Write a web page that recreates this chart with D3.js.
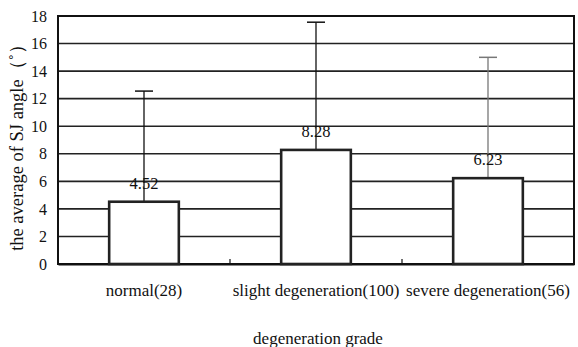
<!DOCTYPE html>
<html><head><meta charset="utf-8">
<script src="https://cdn.jsdelivr.net/npm/d3@7"></script>
<style>body{margin:0;background:#fff}svg{display:block}svg text{font-family:'Liberation Serif','Tinos','DejaVu Serif',serif !important;fill:#111}</style>
</head><body><div id="chart"></div>
<script>
const categories = ["normal(28)", "slight degeneration(100)", "severe degeneration(56)"];
const means = [4.52, 8.28, 6.23];
const errorTops = [12.55, 17.55, 15.0];
const yTicks = [0, 2, 4, 6, 8, 10, 12, 14, 16, 18];
const errColors = ["#111", "#111", "#777"];

const W = 578, H = 347;
const m = {left: 58, right: 4, top: 16, bottom: 83};
const svg = d3.select("#chart").append("svg").attr("width", W).attr("height", H);
const x = d3.scaleBand().domain(categories).range([m.left, W - m.right]).paddingInner(0).paddingOuter(0);
const y = d3.scaleLinear().domain([0, 18]).range([H - m.bottom, m.top]);

svg.append("g").selectAll("line").data(yTicks.filter(d => d > 0)).join("line")
  .attr("x1", m.left).attr("x2", W - m.right)
  .attr("y1", d => y(d)).attr("y2", d => y(d))
  .attr("stroke", "#222").attr("stroke-width", 1.6);

svg.append("rect").attr("x", m.left).attr("y", m.top)
  .attr("width", W - m.right - m.left).attr("height", y(0) - m.top)
  .attr("fill", "none").attr("stroke", "#111").attr("stroke-width", 2);

const yAxis = svg.append("g").attr("transform", `translate(${m.left},0)`)
  .call(d3.axisLeft(y).tickValues(yTicks).tickSize(0).tickPadding(11).tickFormat(d3.format("d")));
yAxis.select(".domain").remove();
yAxis.selectAll("text").style("font-size", "16px");

const xAxis = svg.append("g").attr("transform", `translate(0,${y(0)})`)
  .call(d3.axisBottom(x).tickSize(0).tickPadding(20));
xAxis.select(".domain").attr("stroke", "#111").attr("stroke-width", 2);
xAxis.selectAll("text").style("font-size", "17px");
svg.append("g").selectAll("line").data(categories.slice(1)).join("line")
  .attr("x1", d => x(d)).attr("x2", d => x(d))
  .attr("y1", y(0)).attr("y2", y(0) - 5)
  .attr("stroke", "#111").attr("stroke-width", 1.2);

const bw = x.bandwidth() * 0.405;
const cx = d => x(d) + x.bandwidth() / 2;

const eb = svg.append("g");
categories.forEach((c, i) => {
  eb.append("line").attr("x1", cx(c)).attr("x2", cx(c))
    .attr("y1", y(means[i])).attr("y2", y(errorTops[i]))
    .attr("stroke", errColors[i]).attr("stroke-width", 1.3);
  eb.append("line").attr("x1", cx(c) - 9).attr("x2", cx(c) + 9)
    .attr("y1", y(errorTops[i])).attr("y2", y(errorTops[i]))
    .attr("stroke", errColors[i]).attr("stroke-width", 1.5);
});

svg.append("g").selectAll("rect").data(categories).join("rect")
  .attr("x", d => cx(d) - bw / 2).attr("width", bw)
  .attr("y", (d, i) => y(means[i])).attr("height", (d, i) => y(0) - y(means[i]))
  .attr("fill", "#fff").attr("stroke", "#222").attr("stroke-width", 2.6);

svg.append("g").selectAll("text").data(categories).join("text")
  .attr("x", cx).attr("y", (d, i) => y(means[i]) - 13)
  .attr("text-anchor", "middle").style("font-size", "16.5px")
  .text((d, i) => means[i].toFixed(2));

svg.append("text").attr("transform", `translate(23,143) rotate(-90)`)
  .attr("text-anchor", "middle").style("font-size", "18.5px")
  .text("the average of SJ angle（˚）");
svg.append("text").attr("x", (m.left + W - m.right) / 2 + 2).attr("y", 344)
  .attr("text-anchor", "middle").style("font-size", "17px")
  .text("degeneration grade");
</script></body></html>
